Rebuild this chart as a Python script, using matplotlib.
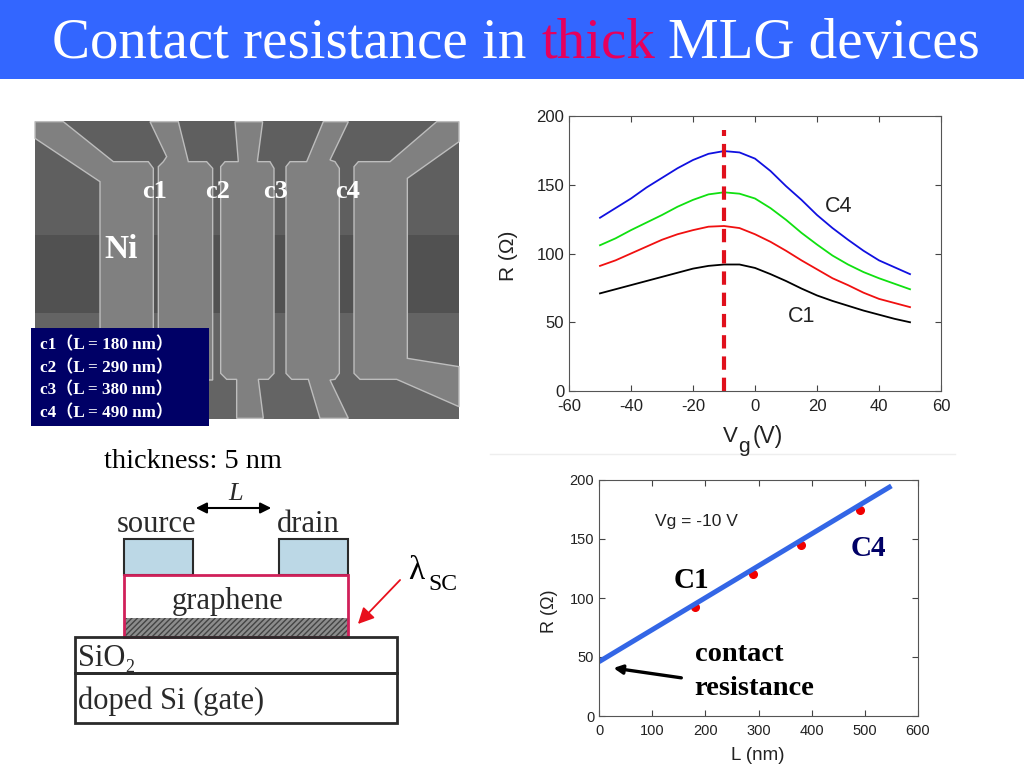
import matplotlib
matplotlib.use("Agg")
import matplotlib.pyplot as plt
from matplotlib.patches import Rectangle, Polygon

# hyphen on the tick labels, like the reference
plt.rcParams["axes.unicode_minus"] = False

# top chart
vg = [-50, -45, -40, -35, -30, -25, -20, -15, -10, -5, 0, 5, 10, 15, 20, 25, 30, 35, 40, 45, 50]
r_c1 = [71, 74, 77, 80, 83, 86, 89, 91, 92, 92, 89.5, 85, 80, 74.5, 69.5, 65.5, 62, 58.5, 55.5, 52.5, 50]
r_c2 = [91, 95, 100, 105, 110, 114, 117, 119.5, 120, 118.5, 114, 108.5, 102, 95, 88.5, 82, 77, 71.5, 67, 64, 61]
r_c3 = [106, 111, 117, 122.5, 128, 134, 139, 143, 144.5, 143.5, 140, 133, 124.5, 115, 106.5, 98.5, 92, 86.5, 82, 78, 74]
r_c4 = [126, 133, 140, 148, 155, 162, 168, 172.5, 174.5, 173.5, 169, 160, 149, 139, 128, 118.5, 110, 102, 95, 90, 85]

# bottom chart
lengths = [180, 290, 380, 490]
r_peak = [92, 120, 145, 175]
fit_l = [0, 550]
fit_r = [46, 195]

legend_rows = ["c1（L = 180 nm）", "c2（L = 290 nm）", "c3（L = 380 nm）", "c4（L = 490 nm）"]

SERIF = ["Liberation Serif", "Noto Sans CJK SC"]
SANS = "Liberation Sans"
GREY = "#2a2a2a"

fig = plt.figure(figsize=(10.24, 7.68), dpi=100)

# whole slide in pixel units
bg = fig.add_axes([0, 0, 1, 1])
bg.set_xlim(0, 1024)
bg.set_ylim(768, 0)
bg.axis("off")

# title band
bg.add_patch(Rectangle((0, 0), 1024, 79, color="#3366ff", lw=0))
title_size = 41
bg.text(52, 44, "Contact resistance in", color="white", family=SERIF, size=title_size, va="center")
bg.text(541, 44, "thick", color="#e6005c", family=SERIF, size=title_size, va="center")
bg.text(668, 44, "MLG devices", color="white", family=SERIF, size=title_size, va="center")

# SEM picture, outlines taken from a 3x crop
def sem(points):
    return [(20 + x / 3, 110 + y / 3) for x, y in points]

bg.add_patch(Rectangle((35, 121), 424, 298, color="#5f5f5f", lw=0))
bg.add_patch(Rectangle((35, 235), 424, 78, color="#515151", lw=0))
bg.add_patch(Rectangle((35, 313), 424, 106, color="#646464", lw=0))

electrodes = [
    [(45, 35), (130, 35), (280, 155), (385, 155), (400, 175), (400, 800), (240, 800), (240, 215), (45, 85)],
    [(415, 170), (430, 155), (440, 140), (390, 35), (475, 35), (505, 155), (560, 155), (578, 175), (578, 810), (415, 810)],
    [(602, 170), (615, 155), (655, 155), (645, 35), (728, 35), (712, 155), (750, 155), (762, 175), (762, 790),
     (745, 808), (715, 808), (730, 925), (650, 925), (650, 808), (620, 808), (602, 790)],
    [(798, 170), (810, 155), (860, 155), (910, 35), (985, 35), (930, 150), (945, 155), (958, 175), (958, 790),
     (945, 808), (930, 810), (985, 925), (900, 925), (865, 808), (815, 808), (798, 790)],
    [(1002, 170), (1015, 155), (1110, 155), (1250, 35), (1317, 35), (1317, 95), (1162, 205), (1162, 745),
     (1317, 770), (1317, 890), (1130, 808), (1020, 808), (1002, 790)],
]
for shape in electrodes:
    bg.add_patch(Polygon(sem(shape), closed=True, fc="#808080", ec="#bdbdbd", lw=1))

for label, x in zip(["c1", "c2", "c3", "c4"], [155, 218, 275, 348]):
    bg.text(x, 191, label, color="white", family=SERIF, weight="bold", size=19, ha="center", va="center")
bg.text(121, 250, "Ni", color="white", family=SERIF, weight="bold", size=24, ha="center", va="center")

bg.add_patch(Rectangle((31, 328), 178, 98, color="#000066", lw=0))
for row, y in zip(legend_rows, [345, 368, 390, 413]):
    bg.text(40, y, row, color="white", family=SERIF, weight="bold", size=12.3, va="center")

# device sketch
bg.text(104, 461, "thickness: 5 nm", color="black", family=SERIF, size=20.4, va="center")
bg.add_patch(Rectangle((124, 539), 69, 36, fc="#bcd8e6", ec=GREY, lw=1.5))
bg.add_patch(Rectangle((279, 539), 69, 36, fc="#bcd8e6", ec=GREY, lw=1.5))
bg.add_patch(Rectangle((124, 618), 224, 19, fc="#8c8c8c", ec="#444444", hatch="//////", lw=0))
bg.add_patch(Rectangle((124, 575), 224, 62, fill=False, ec="#d0205a", lw=2))
bg.add_patch(Rectangle((75, 637), 322, 36, fill=False, ec=GREY, lw=2))
bg.add_patch(Rectangle((75, 673), 322, 50, fill=False, ec=GREY, lw=2))

bg.text(156, 525, "source", color=GREY, family=SERIF, size=22, ha="center", va="center")
bg.text(308, 525, "drain", color=GREY, family=SERIF, size=22, ha="center", va="center")
bg.text(236, 494, "L", color=GREY, family=SERIF, style="italic", size=19, ha="center", va="center")
bg.text(228, 601, "graphene", color=GREY, family=SERIF, size=22, ha="center", va="center")
bg.text(78, 658, "SiO", color=GREY, family=SERIF, size=22, va="center")
bg.text(125, 667, "2", color=GREY, family=SERIF, size=13, va="center")
bg.text(78, 701, "doped Si (gate)", color=GREY, family=SERIF, size=22, va="center")
bg.annotate("", xy=(193, 508), xytext=(274, 508), arrowprops=dict(arrowstyle="<|-|>", color="black", lw=1.5, mutation_scale=16))
bg.annotate("", xy=(356, 626), xytext=(402, 578), arrowprops=dict(arrowstyle="-|>", color="#e8101c", lw=1.3, mutation_scale=24))
bg.text(408, 571, "λ", color="black", family=SERIF, size=24, va="center")
bg.text(428, 584, "SC", color="black", family=SERIF, size=17, va="center")

# faint rule between the two charts
bg.plot([490, 955], [454, 454], color="#eeeeee", lw=1)


def frame(ax, size):
    ax.tick_params(direction="in", top=True, right=True, length=4, width=0.8, color="#444444",
                   labelsize=size, labelcolor="#222222")
    ax.tick_params(axis="x", pad=6)
    for spine in ax.spines.values():
        spine.set_color("#555555")
    for lab in ax.get_xticklabels() + ax.get_yticklabels():
        lab.set_family(SANS)


# top chart
ax1 = fig.add_axes([569 / 1024, 1 - 391 / 768, 372 / 1024, 275 / 768])
ax1.patch.set_alpha(0)
ax1.plot(vg, r_c1, color="black", lw=1.3)
ax1.plot(vg, r_c2, color="#f01010", lw=1.3)
ax1.plot(vg, r_c3, color="#10e010", lw=1.3)
ax1.plot(vg, r_c4, color="#1010e0", lw=1.3)
ax1.plot([-10, -10], [0, 190], color="#e0101c", lw=3, dashes=(3.2, 1.9))
ax1.set_xlim(-60, 60)
ax1.set_ylim(0, 200)
ax1.set_xticks([-60, -40, -20, 0, 20, 40, 60])
ax1.set_yticks([0, 50, 100, 150, 200])
frame(ax1, 12)
ax1.text(27, 134, "C4", family=SANS, size=15.5, color="#222222", ha="center", va="center")
ax1.text(15, 54, "C1", family=SANS, size=15.5, color="#222222", ha="center", va="center")
bg.text(508, 256, "R (Ω)", family=SANS, size=15, color="#222222", rotation=90, ha="center", va="center")
bg.text(723, 437, "V", family=SANS, size=16, color="#222222", va="center")
bg.text(738, 447, "g", family=SANS, size=15, color="#222222", va="center")
bg.text(753, 437, "(V)", family=SANS, size=16.5, color="#222222", va="center")

# bottom chart
ax2 = fig.add_axes([599 / 1024, 1 - 716 / 768, 319 / 1024, 236 / 768])
ax2.patch.set_alpha(0)
ax2.plot(lengths, r_peak, "o", color="#f00000", ms=5.5)
ax2.plot(fit_l, fit_r, color="#3366e6", lw=3.6, solid_capstyle="butt")
ax2.set_xlim(0, 600)
ax2.set_ylim(0, 200)
ax2.set_xticks(range(0, 601, 100))
ax2.set_yticks([0, 50, 100, 150, 200])
frame(ax2, 10.5)
bg.text(758, 756, "L (nm)", family=SANS, size=13.5, color="#222222", ha="center", va="center")
bg.text(549, 611, "R (Ω)", family=SANS, size=13, color="#222222", rotation=90, ha="center", va="center")
ax2.text(106, 165, "Vg = -10 V", family=SANS, size=12.5, color="#222222", va="center")
ax2.text(141, 115, "C1", family=SERIF, weight="bold", size=21, color="black", va="center")
ax2.text(474, 142, "C4", family=SERIF, weight="bold", size=21, color="#000066", va="center")
ax2.text(180, 52, "contact", family=SERIF, weight="bold", size=20.5, color="black", va="center")
ax2.text(180, 23, "resistance", family=SERIF, weight="bold", size=20.5, color="black", va="center")
ax2.annotate("", xy=(22, 41), xytext=(160, 32), arrowprops=dict(arrowstyle="-|>", color="black", lw=2.4, mutation_scale=13))

fig.savefig("out.png", dpi=100)
